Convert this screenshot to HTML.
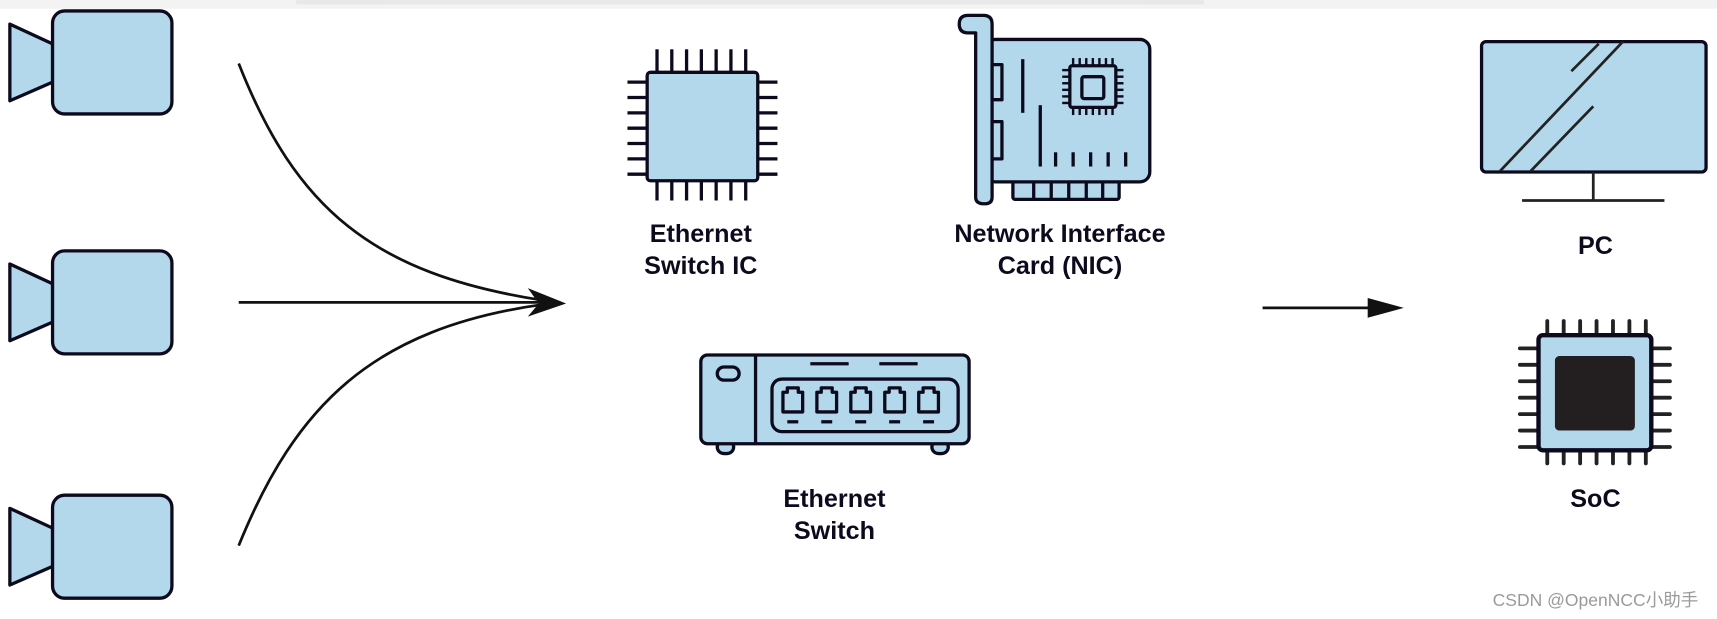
<!DOCTYPE html>
<html><head><meta charset="utf-8"><style>
html,body{margin:0;padding:0;background:#fff;width:1717px;height:619px;overflow:hidden}
svg{display:block}
text{font-family:"Liberation Sans",sans-serif;font-weight:bold;fill:#0d0a1e;font-size:23px;text-anchor:middle}
</style></head><body>
<svg width="1717" height="619" viewBox="0 0 1568 565" preserveAspectRatio="none">
<rect x="0" y="0" width="1568" height="565" fill="#fff"/>
<rect x="0" y="0" width="1568" height="8" fill="#f3f3f4"/>
<rect x="270" y="0" width="830" height="4" rx="2" fill="#e8e8ea"/>
<g stroke="#0d0a1e" stroke-width="3" fill="#b3d8ec" stroke-linejoin="round">
<g id="cam"><path d="M9 22 L48 40 L48 75 L9 92 Z"/><rect x="48" y="10" width="109" height="94" rx="11"/></g>
<use href="#cam" y="219"/>
<use href="#cam" y="442"/>
</g>
<g fill="none" stroke="#111" stroke-width="2.5">
<path d="M218 58 C270 190 340 250 495 274"/>
<path d="M218 276 L495 276"/>
<path d="M218 498 C270 370 340 300 495 278"/>
<path d="M1153 281 L1255 281"/>
</g>
<path d="M482 263 L517 277 L482 289 L492 277 Z" fill="#111"/>
<path d="M1249 272 L1282 281 L1249 290 Z" fill="#111"/>
<!-- Ethernet switch IC -->
<g stroke="#0d0a1e" stroke-width="3">
<g id="pt"><line x1="600" y1="45" x2="600" y2="66"/><line x1="613.5" y1="45" x2="613.5" y2="66"/><line x1="627" y1="45" x2="627" y2="66"/><line x1="640.5" y1="45" x2="640.5" y2="66"/><line x1="654" y1="45" x2="654" y2="66"/><line x1="667.5" y1="45" x2="667.5" y2="66"/><line x1="681" y1="45" x2="681" y2="66"/></g>
<use href="#pt" y="117"/>
<g id="pl"><line x1="573" y1="75" x2="591" y2="75"/><line x1="573" y1="89" x2="591" y2="89"/><line x1="573" y1="103" x2="591" y2="103"/><line x1="573" y1="117" x2="591" y2="117"/><line x1="573" y1="131" x2="591" y2="131"/><line x1="573" y1="145" x2="591" y2="145"/><line x1="573" y1="159" x2="591" y2="159"/></g>
<use href="#pl" x="119"/>
<rect x="591" y="66" width="101" height="99" rx="3" fill="#b3d8ec"/>
</g>
<!-- NIC -->
<g stroke="#0d0a1e" stroke-width="3" fill="#b3d8ec" stroke-linejoin="round">
<rect x="925" y="165" width="97" height="17" rx="2"/>
<line x1="944" y1="165" x2="944" y2="182"/><line x1="960" y1="165" x2="960" y2="182"/><line x1="976" y1="165" x2="976" y2="182"/><line x1="992" y1="165" x2="992" y2="182"/><line x1="1007" y1="165" x2="1007" y2="182"/>
<rect x="900" y="36" width="150" height="130" rx="9"/>
<path d="M884 14 L898 14 Q906 14 906 22 L906 180 Q906 186 899 186 Q891 186 891 180 L891 30 L884 30 Q876 30 876 22 Q876 14 884 14 Z"/>
<rect x="906" y="59" width="9" height="32"/><rect x="906" y="111" width="9" height="34"/>
<line x1="934" y1="54" x2="934" y2="103"/><line x1="950" y1="96" x2="950" y2="152"/>
<line x1="964" y1="139" x2="964" y2="152"/><line x1="980" y1="139" x2="980" y2="152"/><line x1="996" y1="139" x2="996" y2="152"/><line x1="1012" y1="139" x2="1012" y2="152"/><line x1="1028" y1="139" x2="1028" y2="152"/>
<g stroke-width="2.2">
<line x1="980" y1="53" x2="980" y2="60"/><line x1="986" y1="53" x2="986" y2="60"/><line x1="992" y1="53" x2="992" y2="60"/><line x1="998" y1="53" x2="998" y2="60"/><line x1="1004" y1="53" x2="1004" y2="60"/><line x1="1010" y1="53" x2="1010" y2="60"/><line x1="1016" y1="53" x2="1016" y2="60"/>
<line x1="980" y1="98" x2="980" y2="105"/><line x1="986" y1="98" x2="986" y2="105"/><line x1="992" y1="98" x2="992" y2="105"/><line x1="998" y1="98" x2="998" y2="105"/><line x1="1004" y1="98" x2="1004" y2="105"/><line x1="1010" y1="98" x2="1010" y2="105"/><line x1="1016" y1="98" x2="1016" y2="105"/>
<line x1="970" y1="64" x2="977" y2="64"/><line x1="970" y1="70" x2="977" y2="70"/><line x1="970" y1="76" x2="977" y2="76"/><line x1="970" y1="82" x2="977" y2="82"/><line x1="970" y1="88" x2="977" y2="88"/><line x1="970" y1="94" x2="977" y2="94"/>
<line x1="1019" y1="64" x2="1026" y2="64"/><line x1="1019" y1="70" x2="1026" y2="70"/><line x1="1019" y1="76" x2="1026" y2="76"/><line x1="1019" y1="82" x2="1026" y2="82"/><line x1="1019" y1="88" x2="1026" y2="88"/><line x1="1019" y1="94" x2="1026" y2="94"/>
</g>
<rect x="977" y="60" width="42" height="38" rx="2"/>
<rect x="988" y="70" width="20" height="20" rx="2"/>
</g>
<!-- Ethernet switch -->
<g stroke="#0d0a1e" stroke-width="3" fill="#b3d8ec" stroke-linejoin="round">
<rect x="655" y="402" width="15" height="12" rx="6"/><rect x="851" y="402" width="15" height="12" rx="6"/>
<rect x="640" y="324" width="245" height="81" rx="6"/>
<line x1="690" y1="324" x2="690" y2="405"/>
<rect x="655" y="335" width="20" height="12" rx="6"/>
<line x1="740" y1="332" x2="775" y2="332"/><line x1="803" y1="332" x2="838" y2="332"/>
<rect x="705" y="346" width="170" height="48" rx="9"/>
<g id="port"><path d="M715 358 L719 358 L719 354 L729 354 L729 358 L733 358 L733 376 L715 376 Z"/><line x1="719" y1="385" x2="729" y2="385"/></g>
<use href="#port" x="31"/><use href="#port" x="62"/><use href="#port" x="93"/><use href="#port" x="124"/>
</g>
<!-- PC -->
<g stroke="#0d0a1e" stroke-width="3" fill="#b3d8ec">
<rect x="1353" y="38" width="205" height="119" rx="4"/>
<g stroke="#222" stroke-width="2.5"><line x1="1370" y1="156" x2="1482" y2="38"/><line x1="1435" y1="65" x2="1460" y2="40"/><line x1="1398" y1="156" x2="1455" y2="97"/>
<line x1="1455" y1="157" x2="1455" y2="183"/><line x1="1390" y1="183" x2="1520" y2="183"/></g>
</g>
<!-- SoC -->
<g stroke="#222" stroke-width="3.5" stroke-linecap="round">
<g id="st"><line x1="1413" y1="293" x2="1413" y2="306"/><line x1="1428" y1="293" x2="1428" y2="306"/><line x1="1443" y1="293" x2="1443" y2="306"/><line x1="1458" y1="293" x2="1458" y2="306"/><line x1="1473" y1="293" x2="1473" y2="306"/><line x1="1488" y1="293" x2="1488" y2="306"/><line x1="1503" y1="293" x2="1503" y2="306"/></g>
<use href="#st" y="117"/>
<g id="sl"><line x1="1388" y1="318" x2="1405" y2="318"/><line x1="1388" y1="333" x2="1405" y2="333"/><line x1="1388" y1="348" x2="1405" y2="348"/><line x1="1388" y1="363" x2="1405" y2="363"/><line x1="1388" y1="378" x2="1405" y2="378"/><line x1="1388" y1="393" x2="1405" y2="393"/><line x1="1388" y1="408" x2="1405" y2="408"/></g>
<use href="#sl" x="120"/>
</g>
<rect x="1405" y="306" width="103" height="105" rx="4" fill="#b3d8ec" stroke="#0d0a1e" stroke-width="4"/>
<rect x="1420" y="325" width="73" height="68" rx="4" fill="#231f20"/>
<!-- labels -->
<text x="640" y="221">Ethernet</text><text x="640" y="250">Switch IC</text>
<text x="968" y="221">Network Interface</text><text x="968" y="250">Card (NIC)</text>
<text x="762" y="463">Ethernet</text><text x="762" y="492">Switch</text>
<text x="1457" y="232">PC</text>
<text x="1457" y="463">SoC</text>
<text x="1457" y="553" style="font-weight:normal;font-size:16px;fill:#9a9a9a;font-family:'Liberation Sans','Noto Sans CJK SC',sans-serif">CSDN @OpenNCC小助手</text>
</svg>
</body></html>
